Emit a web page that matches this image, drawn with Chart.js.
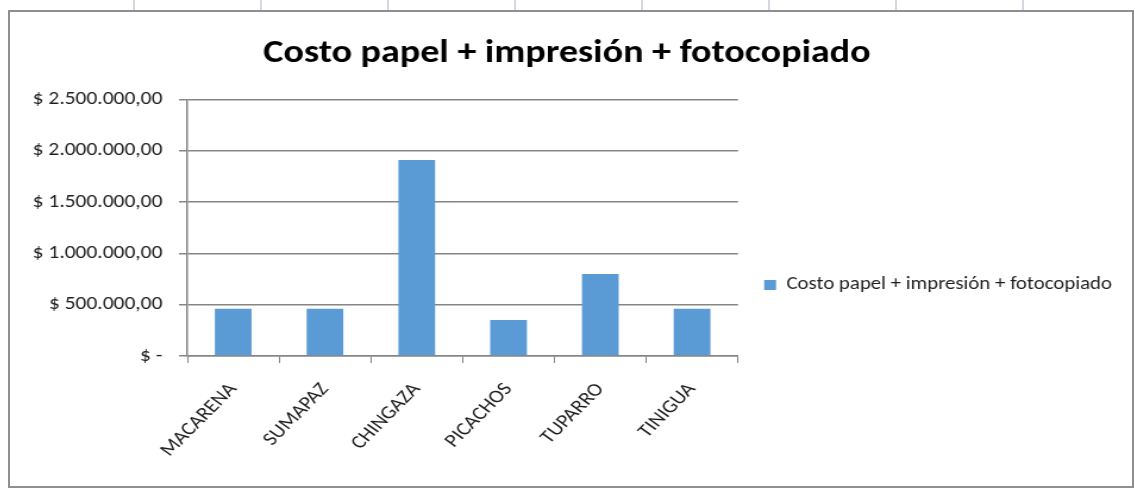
<!DOCTYPE html>
<html>
<head>
<meta charset="utf-8">
<script src="https://cdn.jsdelivr.net/npm/chart.js@4.4.1/dist/chart.umd.min.js"></script>
<style>
  html, body { margin: 0; padding: 0; background: #fff; }
  body { width: 1135px; height: 489px; position: relative; overflow: hidden; }
  #cols {
    position: absolute; left: 8px; top: 0; width: 1127px; height: 11px;
    background: repeating-linear-gradient(90deg, transparent 0 125px, #d3d9e4 125px 127px);
  }
  #box {
    position: absolute; left: 8px; top: 10px; width: 1122px; height: 474px;
    border: 2px solid #8f8f8f; background: #fff; overflow: hidden;
  }
  /* the picture is a bit wider than tall, so stretch the canvas sideways */
  #chart { display: block; transform: scaleX(1.19); transform-origin: 0 0; }
</style>
</head>
<body>
<div id="cols"></div>
<div id="box"><canvas id="chart" width="943" height="474"></canvas></div>
<script>
const chartTitle = 'Costo papel + impresión + fotocopiado';
const seriesLabel = 'Costo papel + impresión + fotocopiado';
const categories = ['MACARENA', 'SUMAPAZ', 'CHINGAZA', 'PICACHOS', 'TUPARRO', 'TINIGUA'];
const costValues = [460000, 460000, 1910000, 350000, 800000, 460000];
const yMax = 2500000;
const yStep = 500000;

const fontFamily = 'Carlito, Lato, sans-serif';
const textColor = '#1e1e1e';
const lineColor = '#868686';

const formatMoney = (v) => v === 0
  ? '$ -'
  : '$ ' + v.toLocaleString('de-DE', { minimumFractionDigits: 2, maximumFractionDigits: 2 });

new Chart(document.getElementById('chart'), {
  type: 'bar',
  data: {
    labels: categories,
    datasets: [{
      label: seriesLabel,
      data: costValues,
      backgroundColor: '#5b9bd5',
      borderWidth: 0,
      barPercentage: 0.4,
      categoryPercentage: 1.0
    }]
  },
  options: {
    responsive: false,
    animation: false,
    layout: { padding: { right: 7 } },
    plugins: {
      title: {
        display: true,
        text: chartTitle,
        color: '#000',
        font: { family: fontFamily, size: 32, weight: 'bold' },
        padding: { top: 23, bottom: 26 }
      },
      legend: {
        position: 'right',
        maxWidth: 400,
        title: {
          display: true,
          text: '',
          font: { size: 10 },
          padding: { top: 60, bottom: 0 }
        },
        labels: {
          boxWidth: 10,
          boxHeight: 10,
          padding: 22,
          color: textColor,
          font: { family: fontFamily, size: 17.5 }
        }
      },
      tooltip: { enabled: false }
    },
    scales: {
      x: {
        afterFit: (scale) => { scale.height = 130; },
        grid: {
          offset: true,
          drawOnChartArea: false,
          drawTicks: true,
          tickLength: 7,
          color: lineColor
        },
        border: { color: lineColor, width: 1.5 },
        ticks: {
          color: textColor,
          font: { family: fontFamily, size: 18.5 },
          minRotation: 50,
          maxRotation: 50,
          autoSkip: false,
          padding: 16
        }
      },
      y: {
        min: 0,
        max: yMax,
        afterFit: (scale) => { scale.width = 149; },
        grid: {
          color: lineColor,
          lineWidth: 1.5,
          drawTicks: true,
          tickLength: 7
        },
        border: { color: lineColor, width: 1.5 },
        ticks: {
          stepSize: yStep,
          color: textColor,
          padding: 14,
          font: { family: fontFamily, size: 18 },
          callback: (v) => formatMoney(v)
        }
      }
    }
  }
});
</script>
</body>
</html>
